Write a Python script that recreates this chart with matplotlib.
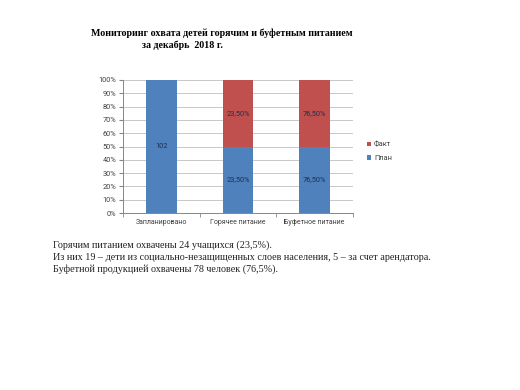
import matplotlib
matplotlib.use('Agg')
import matplotlib.pyplot as plt
import numpy as np
from matplotlib.ticker import FixedLocator

categories = ['Запланировано', 'Горячее питание', 'Буфетное питание']
plan = [102, 23.5, 76.5]
fact = [0, 23.5, 76.5]
plan_labels = ['102', '23,50%', '76,50%']
fact_labels = ['', '23,50%', '76,50%']
yticks = [0, 10, 20, 30, 40, 50, 60, 70, 80, 90, 100]

blue = '#4f81bd'
red = '#c0504d'
W, H = 520, 390
sans = ['Roboto', 'DejaVu Sans']
serif = ['Liberation Serif', 'DejaVu Serif']

fig = plt.figure(figsize=(W / 100, H / 100), dpi=100)
fig.patch.set_facecolor('white')

ax = fig.add_axes([123 / W, (H - 213) / H, 230 / W, 133 / H])

plan = np.array(plan, dtype=float)
fact = np.array(fact, dtype=float)
total = plan + fact
plan_pct = plan / total * 100
fact_pct = fact / total * 100
x = np.arange(len(categories))

ax.bar(x, plan_pct, width=0.4, color=blue, label='План', zorder=3)
ax.bar(x, fact_pct, width=0.4, bottom=plan_pct, color=red, label='Факт', zorder=3)

for i in range(len(x)):
    ax.text(x[i], plan_pct[i] / 2, plan_labels[i], ha='center', va='center',
            fontsize=5.3, color='#1f2f4f', family=sans, zorder=4)
    if fact_labels[i]:
        ax.text(x[i], plan_pct[i] + fact_pct[i] / 2, fact_labels[i], ha='center',
                va='center', fontsize=5.3, color='#1f2f4f', family=sans, zorder=4)

ax.set_xlim(-0.5, len(x) - 0.5)
ax.set_ylim(0, 100)
ax.set_yticks(yticks)
ax.set_yticklabels(['%d%%' % v for v in yticks], family=sans)
ax.set_xticks(x)
ax.set_xticklabels(categories, family=sans)
ax.xaxis.set_minor_locator(FixedLocator([-0.5, 0.5, 1.5, 2.5]))
ax.tick_params(axis='x', which='major', length=0, labelsize=5.0, colors='#404040', pad=4)
ax.tick_params(axis='x', which='minor', length=3, color='#868686')
ax.tick_params(axis='y', length=3, labelsize=5.3, colors='#404040', pad=2)
ax.tick_params(axis='y', color='#868686')
ax.grid(axis='y', color='#c8c8c8', linewidth=0.7, zorder=0)
for s in ['top', 'right']:
    ax.spines[s].set_visible(False)
for s in ['left', 'bottom']:
    ax.spines[s].set_color('#868686')
    ax.spines[s].set_linewidth(0.7)

handles, labels = ax.get_legend_handles_labels()
leg = fig.legend(handles[::-1], labels[::-1], loc='center left',
                 bbox_to_anchor=(360 / W, (H - 152) / H), frameon=False,
                 prop={'family': sans, 'size': 5.3}, handlelength=0.6,
                 handleheight=0.6, handletextpad=0.4, labelspacing=0.9)
for t in leg.get_texts():
    t.set_color('#404040')

fig.text(221.5 / W, 1 - 33 / H, 'Мониторинг охвата детей горячим и буфетным питанием',
         ha='center', va='center', fontsize=7.2, fontweight='bold', family=serif)
fig.text(142 / W, 1 - 45 / H, 'за декабрь  2018 г.',
         ha='left', va='center', fontsize=7.2, fontweight='bold', family=serif)

lines = ['Горячим питанием охвачены 24 учащихся (23,5%).',
         'Из них 19 – дети из социально-незащищенных слоев населения, 5 – за счет арендатора.',
         'Буфетной продукцией охвачены 78 человек (76,5%).']
for i, line in enumerate(lines):
    fig.text(53 / W, 1 - (245 + 12 * i) / H, line, ha='left', va='center',
             fontsize=7.3, family=serif, color='#222222')

fig.savefig('out.png', dpi=100)
